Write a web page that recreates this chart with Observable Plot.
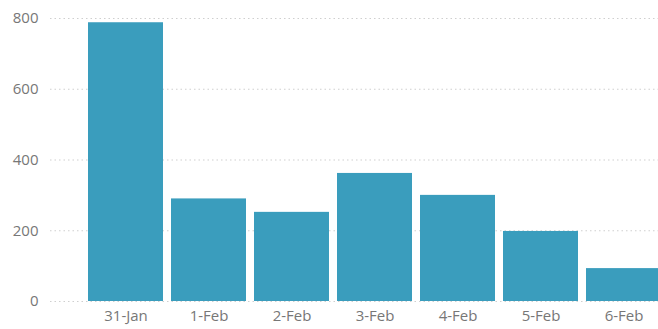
<!DOCTYPE html>
<html>
<head>
<meta charset="utf-8">
<script src="https://cdn.jsdelivr.net/npm/d3@7"></script>
<script src="https://cdn.jsdelivr.net/npm/@observablehq/plot@0.6"></script>
<style>
  html, body { margin: 0; padding: 0; background: #fff; overflow: hidden; }
  #chart { width: 658px; height: 329px; overflow: hidden; }
  #chart svg { max-width: none !important; }
</style>
</head>
<body>
<div id="chart"></div>
<script>
const dates = ["31-Jan", "1-Feb", "2-Feb", "3-Feb", "4-Feb", "5-Feb", "6-Feb"];
const counts = [788, 290, 252, 362, 300, 198, 93];
const yTicks = [0, 200, 400, 600, 800];

const data = dates.map((d, i) => ({date: d, count: counts[i]}));

const chart = Plot.plot({
  width: 670,
  height: 329,
  marginLeft: 50,
  marginRight: 0,
  marginTop: 18,
  marginBottom: 28,
  style: {fontFamily: "'Open Sans', 'Noto Sans', sans-serif", fontSize: "15px", color: "#777", background: "#fff", maxWidth: "none"},
  x: {domain: dates, range: [79, 670], padding: 0.1, label: null},
  y: {domain: [0, 800], label: null},
  marks: [
    Plot.ruleY(yTicks, {stroke: "#cfcfcf", strokeDasharray: "1.5,3", strokeWidth: 1}),
    Plot.barY(data, {x: "date", y: "count", fill: "#3a9dbd"}),
    Plot.axisY(yTicks, {tickSize: 0, tickPadding: 12, fill: "#777", fontSize: 15, label: null}),
    Plot.axisX({tickSize: 0, tickPadding: 9, fill: "#777", fontSize: 15, label: null, style: {letterSpacing: "0.5px"}})
  ]
});
document.getElementById("chart").appendChild(chart);
</script>
</body>
</html>
